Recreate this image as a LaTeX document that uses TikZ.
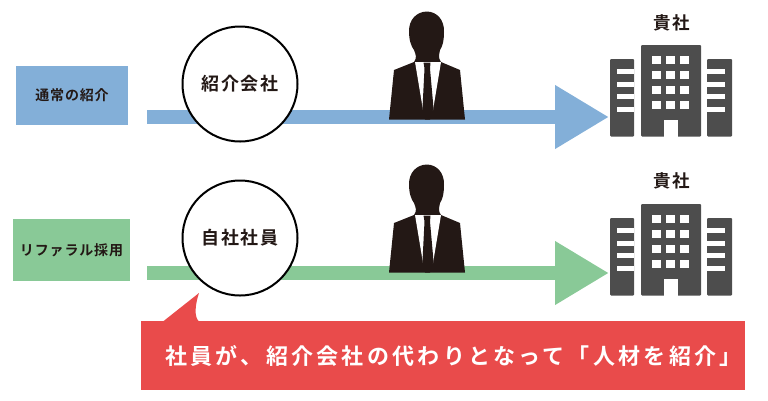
\documentclass[tikz,border=0pt]{standalone}
\usepackage{fontspec}
\usepackage{xcolor}
\usetikzlibrary{arrows.meta}
\setmainfont{Noto Sans CJK JP}[BoldFont={Noto Sans CJK JP Bold}]
\definecolor{bluebar}{HTML}{83AFD8}
\definecolor{greenbar}{HTML}{89C997}
\definecolor{redbar}{HTML}{E94B4B}
\definecolor{suit}{HTML}{231815}
\definecolor{tower}{HTML}{4D4D4D}
\tikzset{
	kind/.style={text=suit,font=\fontsize{14}{14}\selectfont\bfseries\addfontfeature{LetterSpace=6},inner sep=0pt},
	firm/.style={text=suit,font=\fontsize{17.5}{17.5}\selectfont\bfseries\addfontfeature{LetterSpace=6},inner sep=0pt},
	agent/.style={circle,draw=black,line width=2pt,fill=white,minimum size=115pt,inner sep=0pt,text=suit,
		font=\fontsize{18}{18}\selectfont\bfseries\addfontfeature{LetterSpace=9}},
	flow/.style={line width=14pt,-{Triangle[length=54pt,width=60pt]}},
	person/.pic={
		\fill[suit] (426.5,11.5) .. controls (437,11.5) and (444.5,20) .. (444,32)
			.. controls (444,42) and (442,47) .. (440,50) .. controls (439,55) and (438,58) .. (441,62)
			-- (460,70) -- (465,119.5) -- (389,119.5) -- (394,70) -- (414,62)
			.. controls (417,58) and (416,55) .. (414,50) .. controls (411,46) and (409,40) .. (409,31)
			.. controls (409,20) and (416,12) .. (426.5,11.5) -- cycle;
		\fill[white] (415,62) -- (423,62) -- (436,62) -- (441,62) -- (433,110) -- (423,110) -- cycle;
		\fill[suit] (423.5,62.5) -- (430.5,62.5) -- (430,68.5) -- (433.5,108) -- (430,119.5) -- (425,119.5) -- (422.5,108) -- (424.5,68.5) -- cycle;
	},
	building/.pic={
		\fill[tower,rounded corners=1pt] (610,59) rectangle (634,136.5);
		\fill[tower,rounded corners=1pt] (641,45) rectangle (701,136.5);
		\fill[tower,rounded corners=1pt] (707,59) rectangle (732,136.5);
		\foreach \y in {69,82,94,107} {
			\fill[white] (617,\y) rectangle (634,\y+5);
			\fill[white] (707,\y) rectangle (725,\y+5);
		}
		\foreach \x in {652,666,680} {
			\foreach \y in {56,71,86,101} {
				\fill[white] (\x,\y) rectangle (\x+8.5,\y+7.5);
			}
		}
		\fill[white] (663.5,120) rectangle (678,136.5);
	}
}
\begin{document}
\begin{tikzpicture}[x=1pt,y=-1pt]
	\useasboundingbox (0,0) rectangle (768,400);
	%
	\coordinate (S1) at (147,117);
	\coordinate (E1) at (609,117);
	\coordinate (S2) at (147,273);
	\coordinate (E2) at (609,273);
	\draw[flow,bluebar] (S1) -- (E1);
	\draw[flow,greenbar] (S2) -- (E2);
	%
	\node[kind,fill=bluebar,minimum width=112pt,minimum height=59pt] (normal) at (72,95.5) {通常の紹介};
	\node[kind,fill=greenbar,minimum width=117pt,minimum height=62pt] (referral) at (71.5,250) {リファラル採用};
	\node[agent] (agency) at (240,84) {紹介会社};
	\node[agent] (staff) at (240,238) {自社社員};
	\node[firm] (firm1) at (672,23) {貴社};
	\node[firm] (firm2) at (672,181) {貴社};
	%
	\pic at (0,0) {person};
	\pic at (0,153) {person};
	\pic at (0,0) {building};
	\pic at (0,159) {building};
	%
	\node[fill=redbar,text=white,minimum width=604pt,minimum height=69pt,inner sep=0pt,
		font=\fontsize{22}{22}\selectfont\bfseries\addfontfeature{LetterSpace=15}] (note) at (443,355.5) {\hspace*{21pt}社員が、紹介会社の代わりとなって「人材を紹介」};
	\fill[redbar] (163,321.5) -- (199,293) .. controls (195,305) and (194,317) .. (199,321.5) -- cycle;
\end{tikzpicture}
\end{document}
